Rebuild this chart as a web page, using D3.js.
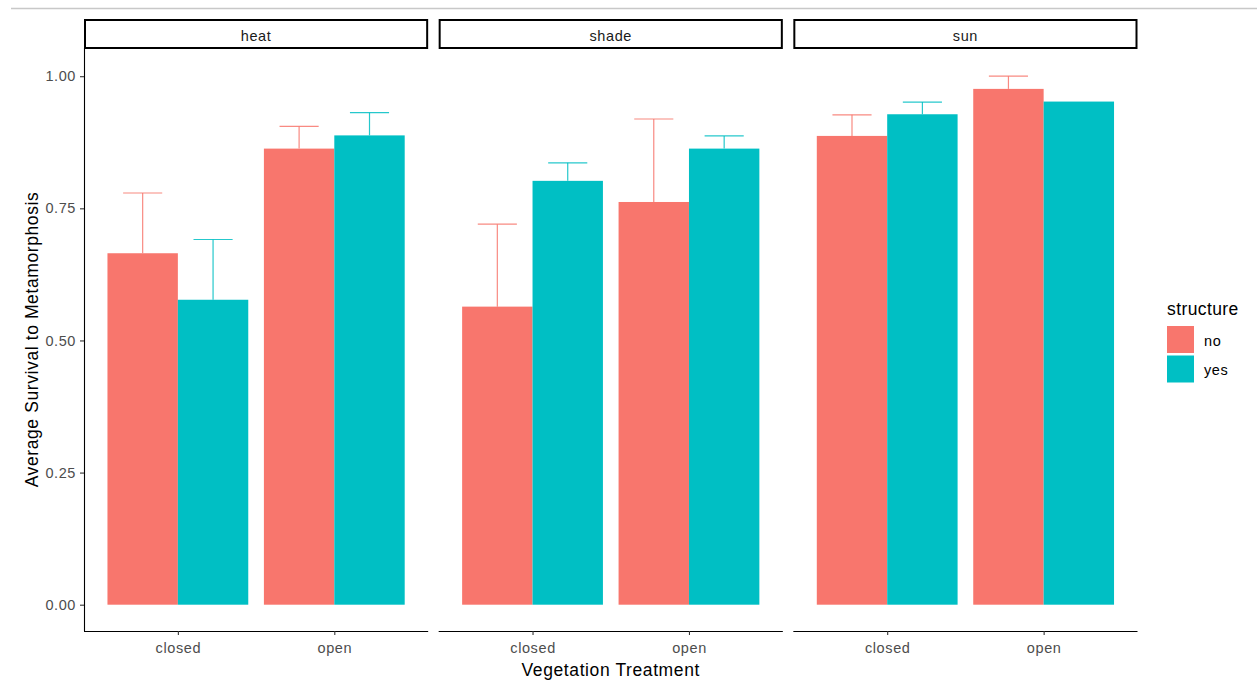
<!DOCTYPE html>
<html>
<head>
<meta charset="utf-8">
<script src="https://cdn.jsdelivr.net/npm/d3@7"></script>
<style>
  html, body { margin: 0; padding: 0; background: #fff; }
  svg { display: block; font-family: "Liberation Sans", Arial, sans-serif; }
</style>
</head>
<body>
<svg id="chart" width="1257" height="681"></svg>
<script>
// Facets, x categories and fill groups
const facets = ["heat", "shade", "sun"];
const treatments = ["closed", "open"];
const structures = ["no", "yes"];

// Mean survival, ordered facet by facet: closed, open
const meanNo  = [0.665, 0.863, 0.564, 0.762, 0.887, 0.976];
const meanYes = [0.577, 0.888, 0.802, 0.863, 0.928, 0.952];
// Upper end of the error bar (mean + se); null where there is none
const upperNo  = [0.779, 0.905, 0.720, 0.919, 0.927, 1.000];
const upperYes = [0.691, 0.931, 0.836, 0.887, 0.951, null];

const yTicks = [0, 0.25, 0.5, 0.75, 1.0];
const yTickLabels = ["0.00", "0.25", "0.50", "0.75", "1.00"];

const colors = { no: "#F8766D", yes: "#00BFC4" };

// Tidy rows built from the arrays above
const rows = [];
facets.forEach((f, fi) => {
  treatments.forEach((t, ti) => {
    const i = fi * treatments.length + ti;
    rows.push({ facet: f, treatment: t, structure: "no",  mean: meanNo[i],  upper: upperNo[i] });
    rows.push({ facet: f, treatment: t, structure: "yes", mean: meanYes[i], upper: upperYes[i] });
  });
});

const svg = d3.select("#chart");

// Top separator line of the viewer pane
svg.append("line")
  .attr("x1", 11).attr("x2", 1257).attr("y1", 8.5).attr("y2", 8.5)
  .attr("stroke", "#c8c8c8").attr("stroke-width", 1.5);

const panelTop = 48, panelBottom = 631;
const stripTop = 19;

const facetScale = d3.scaleBand()
  .domain(facets)
  .range([84, 1137.5])
  .paddingInner(0.0296)
  .paddingOuter(0);

const y = d3.scaleLinear().domain([0, 1]).range([604.7, 76.2]);

const tickFont = 14.5, titleFont = 17.5;

facets.forEach(f => {
  const x0 = facetScale(f);
  const w = facetScale.bandwidth();
  const g = svg.append("g");

  const x = d3.scalePoint().domain(treatments).range([x0, x0 + w]).padding(0.6);
  const step = x.step();
  const dodge = d3.scaleBand().domain(structures).range([-0.45 * step, 0.45 * step]).padding(0);
  const errHalf = 0.125 * step;

  const data = rows.filter(r => r.facet === f);

  // error bars (upper half only, rest hidden by the bar)
  const eb = data.filter(d => d.upper != null);
  g.selectAll(".err-v").data(eb).join("line")
    .attr("x1", d => x(d.treatment) + dodge(d.structure) + dodge.bandwidth() / 2)
    .attr("x2", d => x(d.treatment) + dodge(d.structure) + dodge.bandwidth() / 2)
    .attr("y1", d => y(d.mean)).attr("y2", d => y(d.upper))
    .attr("stroke", d => colors[d.structure]).attr("stroke-width", 1.2).attr("opacity", 0.85);
  g.selectAll(".err-h").data(eb).join("line")
    .attr("x1", d => x(d.treatment) + dodge(d.structure) + dodge.bandwidth() / 2 - errHalf)
    .attr("x2", d => x(d.treatment) + dodge(d.structure) + dodge.bandwidth() / 2 + errHalf)
    .attr("y1", d => y(d.upper)).attr("y2", d => y(d.upper))
    .attr("stroke", d => colors[d.structure]).attr("stroke-width", 1.2).attr("opacity", 0.85);

  // bars
  g.selectAll(".bar").data(data).join("rect")
    .attr("x", d => x(d.treatment) + dodge(d.structure))
    .attr("width", dodge.bandwidth())
    .attr("y", d => y(d.mean))
    .attr("height", d => y(0) - y(d.mean))
    .attr("fill", d => colors[d.structure]);

  // x axis
  const xAxis = g.append("g")
    .attr("transform", `translate(0,${panelBottom})`)
    .call(d3.axisBottom(x).tickSize(4).tickPadding(8));
  xAxis.select(".domain").attr("d", `M${x0},0.5H${x0 + w}`).attr("stroke", "#000").attr("stroke-width", 1.1);
  xAxis.selectAll(".tick line").attr("stroke", "#333").attr("stroke-width", 1.1);
  xAxis.selectAll(".tick text")
    .attr("fill", "#4D4D4D").attr("font-size", tickFont).attr("letter-spacing", 0.6)
    .attr("font-family", "Liberation Sans, Arial, sans-serif");

  // strip
  g.append("rect")
    .attr("x", x0 + 1).attr("y", stripTop + 1)
    .attr("width", w - 2).attr("height", panelTop - stripTop - 1)
    .attr("fill", "#fff").attr("stroke", "#000").attr("stroke-width", 2);
  g.append("text")
    .attr("x", x0 + w / 2).attr("y", (stripTop + panelTop) / 2 + 4)
    .attr("text-anchor", "middle").attr("dominant-baseline", "middle")
    .attr("font-size", tickFont).attr("letter-spacing", 0.6)
    .attr("fill", "#1A1A1A").text(f);
});

// y axis on the first panel
const firstX = facetScale(facets[0]);
const yAxis = svg.append("g")
  .attr("transform", `translate(${firstX},0)`)
  .call(d3.axisLeft(y).tickValues(yTicks).tickFormat((d, i) => yTickLabels[i]).tickSize(4).tickPadding(4));
yAxis.select(".domain").attr("d", `M0.5,${panelTop}V${panelBottom}`).attr("stroke", "#000").attr("stroke-width", 1.1);
yAxis.selectAll(".tick line").attr("stroke", "#333").attr("stroke-width", 1.1);
yAxis.selectAll(".tick text")
  .attr("fill", "#4D4D4D").attr("font-size", tickFont).attr("letter-spacing", 0.6)
  .attr("font-family", "Liberation Sans, Arial, sans-serif");

// axis titles
svg.append("text")
  .attr("x", (84 + 1137.5) / 2).attr("y", 676)
  .attr("text-anchor", "middle").attr("font-size", titleFont).attr("letter-spacing", 0.6)
  .attr("fill", "#000").text("Vegetation Treatment");
svg.append("text")
  .attr("transform", `translate(38,${(panelTop + panelBottom) / 2}) rotate(-90)`)
  .attr("text-anchor", "middle").attr("font-size", titleFont).attr("letter-spacing", 0.6)
  .attr("fill", "#000").text("Average Survival to Metamorphosis");

// legend
const legend = svg.append("g").attr("transform", "translate(1167,0)");
legend.append("text").attr("x", 0).attr("y", 315)
  .attr("font-size", titleFont).attr("letter-spacing", 0.4).attr("fill", "#000").text("structure");
structures.forEach((s, i) => {
  const top = 326 + i * 29.5;
  legend.append("rect").attr("x", 0).attr("y", top).attr("width", 27).attr("height", 27)
    .attr("fill", colors[s]);
  legend.append("text").attr("x", 37).attr("y", top + 16)
    .attr("dominant-baseline", "middle").attr("font-size", tickFont).attr("letter-spacing", 0.6)
    .attr("fill", "#000").text(s);
});
</script>
</body>
</html>
